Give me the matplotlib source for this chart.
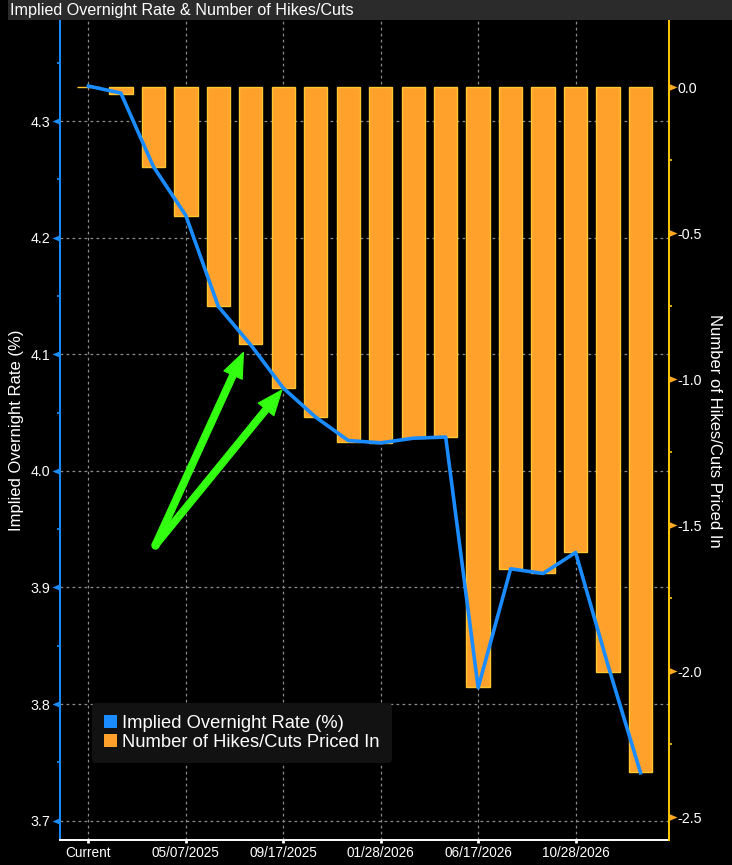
import matplotlib
matplotlib.use('Agg')
import matplotlib.pyplot as plt
import numpy as np
from matplotlib.patches import Rectangle, Patch, FancyArrowPatch
from matplotlib.path import Path
from matplotlib.markers import MarkerStyle
from matplotlib.ticker import FixedLocator, MultipleLocator

plt.rcParams['font.family'] = ['Liberation Sans', 'DejaVu Sans']
plt.rcParams['axes.unicode_minus'] = False

# ---------------- data ----------------
meeting_dates = ["Current", "01/29/2025", "03/19/2025", "05/07/2025", "06/18/2025",
                 "07/30/2025", "09/17/2025", "10/29/2025", "12/10/2025", "01/28/2026",
                 "03/18/2026", "04/29/2026", "06/17/2026", "07/29/2026", "09/16/2026",
                 "10/28/2026", "12/09/2026", "01/27/2027"]
implied_rate = [4.330, 4.324, 4.261, 4.219, 4.141, 4.108, 4.071, 4.046, 4.026,
                4.024, 4.028, 4.029, 3.814, 3.916, 3.912, 3.930, 3.833, 3.741]
hikes_cuts = [0.0, -0.024, -0.272, -0.442, -0.748, -0.880, -1.029, -1.130, -1.214,
              -1.217, -1.202, -1.199, -2.053, -1.649, -1.662, -1.590, -2.001, -2.346]
xtick_labels = ["Current", "05/07/2025", "09/17/2025", "01/28/2026", "06/17/2026", "10/28/2026"]
left_ticks = [3.7, 3.8, 3.9, 4.0, 4.1, 4.2, 4.3]
right_ticks = [0.0, -0.5, -1.0, -1.5, -2.0, -2.5]
title_text = "Implied Overnight Rate & Number of Hikes/Cuts"
left_label = "Implied Overnight Rate (%)"
right_label = "Number of Hikes/Cuts Priced In"
line_name = "Implied Overnight Rate (%)"
bar_name = "Number of Hikes/Cuts Priced In"
# arrow annotation (x index, implied-rate value)
arrow_start = (2.056, 3.936)
arrow_tips = [(4.774, 4.1016), (5.956, 4.0693)]

BLUE = '#1a8cff'
ORANGE = '#ffa12b'
BAR_EDGE = '#ffc62e'
YELLOW = '#ffc800'
GREEN = '#33ff11'
GRID = '#8c8c8c'

W, H = 732, 865
fig = plt.figure(figsize=(W / 100, H / 100), dpi=100, facecolor='black')

# title bar
fig.patches.append(Rectangle((8 / W, 1 - 20 / H), 1 - 8 / W, 20 / H,
                             transform=fig.transFigure, facecolor='#2b2b2b',
                             edgecolor='none', zorder=0))
fig.text(10 / W, 1 - 10.5 / H, title_text, color='white', fontsize=11.6,
         ha='left', va='center')

ax_l, ax_r, ax_t, ax_b = 60, 668.5, 21, 840
ax = fig.add_axes([ax_l / W, 1 - ax_b / H, (ax_r - ax_l) / W, (ax_b - ax_t) / H])
ax.set_facecolor('black')
ax2 = ax.twinx()
ax3 = ax.twinx()

x = np.arange(len(meeting_dates))

ax.set_xlim(-0.874, 17.86)
ax.set_ylim(3.6834, 4.3858)
ax2.set_ylim(-2.578, 0.227)
ax3.set_ylim(ax.get_ylim())

# bars (right axis)
ax2.bar(x, hikes_cuts, width=0.72, color=ORANGE, edgecolor=BAR_EDGE, linewidth=1.0, zorder=2)

# line (left axis scale)
ax3.plot(x, implied_rate, color=BLUE, lw=2.6, solid_joinstyle='round', zorder=3)

# grid on bottom axes
ax.grid(True, color=GRID, linestyle=(0, (2.2, 2.6)), linewidth=0.9)

# spines
for s in ['top', 'right']:
    ax.spines[s].set_visible(False)
ax.spines['left'].set_color(BLUE)
ax.spines['left'].set_linewidth(1.4)
ax.spines['bottom'].set_color('white')
ax.spines['bottom'].set_linewidth(1.4)
for s in ['top', 'left', 'bottom']:
    ax2.spines[s].set_visible(False)
    ax3.spines[s].set_visible(False)
ax2.spines['right'].set_color(YELLOW)
ax2.spines['right'].set_linewidth(1.4)
ax3.spines['right'].set_visible(False)
ax3.yaxis.set_visible(False)

# x ticks
ax.set_xticks(x[::3][:len(xtick_labels)])
ax.set_xticklabels(xtick_labels)
ax.tick_params(axis='x', colors='white', labelcolor='white', length=2.5, width=2,
               labelsize=9.8, pad=2)

# left y ticks
ax.yaxis.set_major_locator(FixedLocator(left_ticks))
ax.yaxis.set_minor_locator(MultipleLocator(0.05))
ax.yaxis.set_major_formatter(matplotlib.ticker.FormatStrFormatter('%.1f'))
TSIZE = 11.5
ax.tick_params(axis='y', which='major', colors=BLUE, labelcolor='white', length=TSIZE,
               width=0, labelsize=10.3, pad=-4.6)
ax.tick_params(axis='y', which='minor', colors=BLUE, length=2.5, width=1.2)

# right y ticks
ax2.yaxis.set_major_locator(FixedLocator(right_ticks))
ax2.yaxis.set_minor_locator(MultipleLocator(0.25))
ax2.yaxis.set_major_formatter(matplotlib.ticker.FormatStrFormatter('%.1f'))
ax2.tick_params(axis='y', which='major', colors='#ffa820', labelcolor='white', length=TSIZE,
                width=0, labelsize=10.3, pad=-5.2)
ax2.tick_params(axis='y', which='minor', colors=YELLOW, length=2.5, width=1.2)

left_tri = MarkerStyle(Path([(0, 0.42), (-1, 0), (0, -0.42), (0, 0.42)],
                            [Path.MOVETO, Path.LINETO, Path.LINETO, Path.CLOSEPOLY]))
right_tri = MarkerStyle(Path([(0, 0.42), (1, 0), (0, -0.42), (0, 0.42)],
                             [Path.MOVETO, Path.LINETO, Path.LINETO, Path.CLOSEPOLY]))
for t in ax.yaxis.get_major_ticks():
    t.tick1line.set_marker(left_tri)
    t.tick1line.set_markerfacecolor(BLUE)
    t.tick1line.set_markeredgewidth(0)
    t.tick1line.set_markersize(TSIZE)
for t in ax2.yaxis.get_major_ticks():
    t.tick2line.set_marker(right_tri)
    t.tick2line.set_markerfacecolor('#ffa820')
    t.tick2line.set_markeredgewidth(0)
    t.tick2line.set_markersize(TSIZE)

# axis labels
ax.set_ylabel(left_label, color='white', fontsize=12)
ax.yaxis.set_label_coords((24 - ax_l) / (ax_r - ax_l), 0.5)
ax2.set_ylabel(right_label, color='white', fontsize=12, rotation=270, va='bottom')
ax2.yaxis.set_label_coords((707 - ax_l) / (ax_r - ax_l), 0.5)

# green arrows
for tip in arrow_tips:
    arr = FancyArrowPatch(arrow_start, tip,
                          arrowstyle='simple,head_length=1.8,head_width=1.45,tail_width=0.48',
                          mutation_scale=10, color=GREEN, lw=0.8, joinstyle='round',
                          capstyle='round', shrinkA=0, shrinkB=0, zorder=6)
    ax3.add_patch(arr)
ax3.plot([arrow_start[0]], [arrow_start[1]], 'o', color=GREEN, ms=5, zorder=6)

# legend
handles = [Patch(facecolor=BLUE, edgecolor='none', label=line_name),
           Patch(facecolor=ORANGE, edgecolor='none', label=bar_name)]
leg = ax3.legend(handles=handles, loc='lower left',
                 bbox_to_anchor=((92 - ax_l) / (ax_r - ax_l), (ax_b - 763) / (ax_b - ax_t)),
                 borderaxespad=0, frameon=True, facecolor='#121212', edgecolor='none',
                 framealpha=1, fontsize=13.2, labelcolor='white', handlelength=0.7,
                 handleheight=0.7, handletextpad=0.3, labelspacing=0.12, borderpad=0.65,
                 fancybox=True)
leg.set_zorder(10)

fig.savefig('out.png', dpi=100, facecolor='black')
